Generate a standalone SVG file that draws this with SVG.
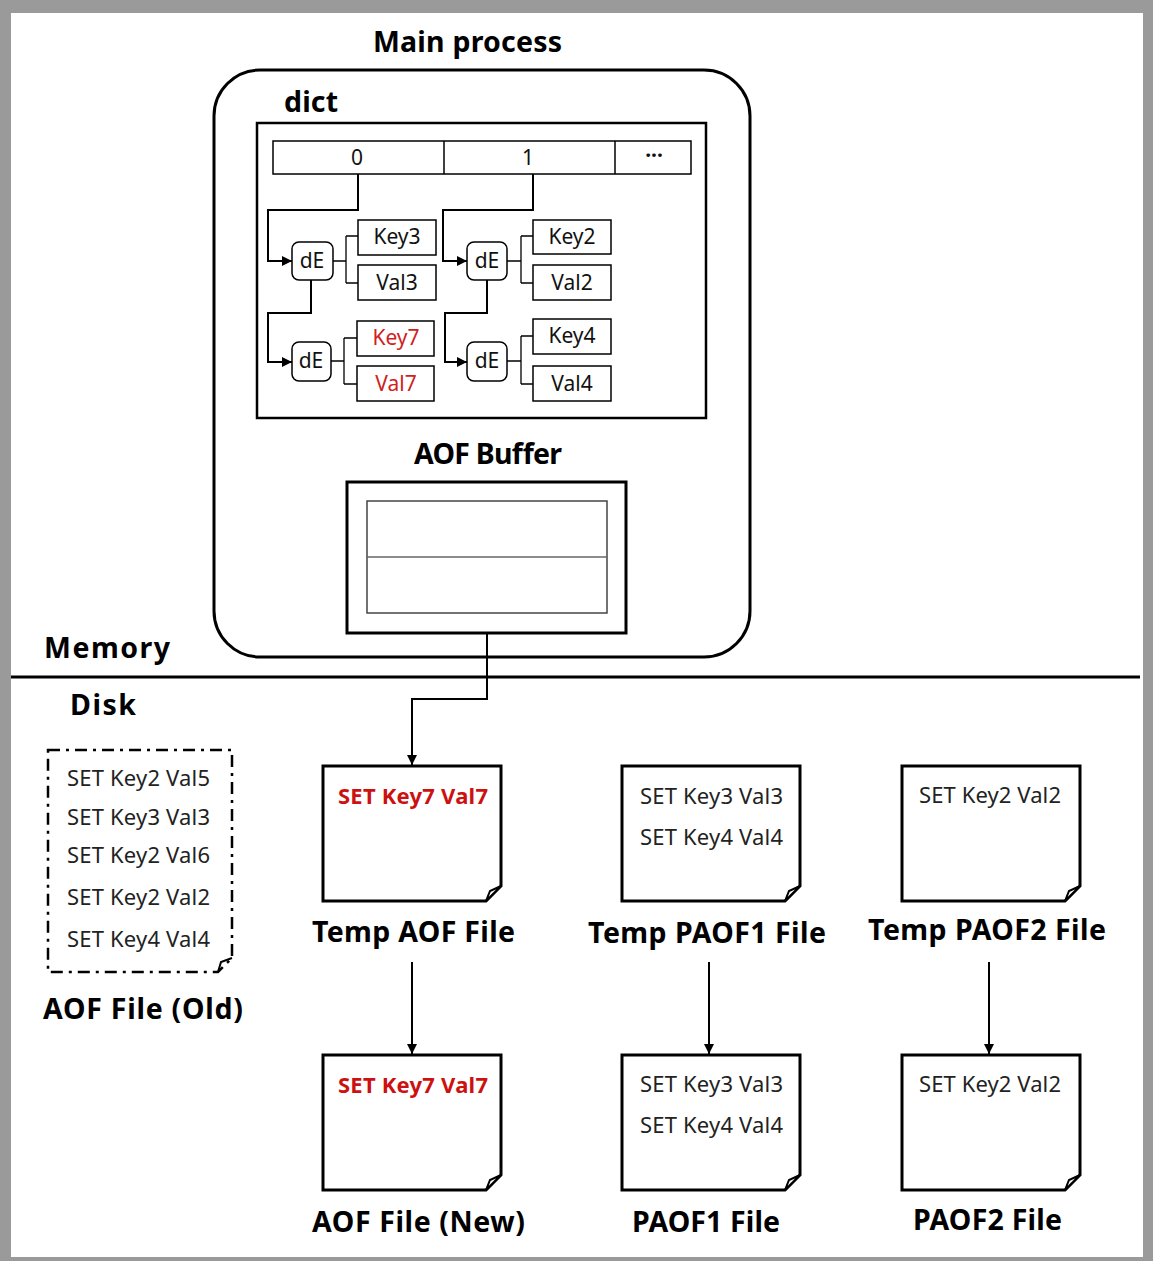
<svg xmlns="http://www.w3.org/2000/svg" width="1153" height="1261" viewBox="0 0 1153 1261">
<defs>
<marker id="arr" viewBox="0 0 10 10" refX="10" refY="5" markerWidth="10" markerHeight="10" markerUnits="userSpaceOnUse" orient="auto">
<path d="M0,0 L10,5 L0,10 Z" fill="#000"/>
</marker>
<style>
.lbl{font-family:"Noto Sans","Open Sans",sans-serif;font-weight:bold;font-size:28.5px;fill:#000;}
.cell{fill:#fff;stroke:#000;stroke-width:1.5;}
.de{fill:#fff;stroke:#000;stroke-width:1.5;}
.ct{font-family:"Noto Sans","Open Sans",sans-serif;font-size:21px;fill:#111;text-anchor:middle;}
.red{fill:#d02020;}
.ln{fill:none;stroke:#000;stroke-width:2;}
.ln1{fill:none;stroke:#000;stroke-width:1.3;}
.doc{fill:#fff;stroke:#000;stroke-width:3;}
.fold{fill:#fff;stroke:#000;stroke-width:2;}
.dt{font-family:"Noto Sans","Open Sans",sans-serif;font-size:22px;fill:#222;}
.dtr{font-family:"Noto Sans","Open Sans",sans-serif;font-size:22px;font-weight:bold;fill:#cc1111;}
</style>
</defs>
<rect x="0" y="0" width="1153" height="1261" fill="#9a9a9a"/>
<rect x="11" y="13" width="1132" height="1244" fill="#fff"/>

<g id="main-process">
<text class="lbl" x="373" y="52" textLength="189" lengthAdjust="spacing">Main process</text>
<rect x="214" y="70" width="536" height="587" rx="46" fill="none" stroke="#000" stroke-width="3"/>
</g>

<g id="dict">
<text class="lbl" x="284" y="112" textLength="54" lengthAdjust="spacing">dict</text>
<rect x="257" y="123" width="449" height="295" fill="none" stroke="#000" stroke-width="2.5"/>
<rect x="273" y="141" width="418" height="33" class="cell"/>
<line x1="444" y1="141" x2="444" y2="174" stroke="#000" stroke-width="1.5"/>
<line x1="615" y1="141" x2="615" y2="174" stroke="#000" stroke-width="1.5"/>
<text class="ct" x="357" y="165">0</text>
<text class="ct" x="528" y="165">1</text>
<text class="ct" x="654" y="163" style="font-weight:bold">···</text>
</g>

<g id="dE1">
<rect class="de" x="292" y="242" width="41" height="38" rx="7"/>
<text class="ct" x="312" y="268">dE</text>
</g>
<g id="key3"><rect class="cell" x="358" y="220" width="78" height="35"/><text class="ct" x="397" y="244">Key3</text></g>
<g id="val3"><rect class="cell" x="358" y="265" width="78" height="35"/><text class="ct" x="397" y="290">Val3</text></g>

<g id="dE2">
<rect class="de" x="292" y="342" width="39" height="39" rx="7"/>
<text class="ct" x="311" y="368">dE</text>
</g>
<g id="key7"><rect class="cell" x="357" y="321" width="77" height="35"/><text class="ct red" x="396" y="345">Key7</text></g>
<g id="val7"><rect class="cell" x="357" y="366" width="77" height="35"/><text class="ct red" x="396" y="391">Val7</text></g>

<g id="dE3">
<rect class="de" x="467" y="242" width="40" height="38" rx="7"/>
<text class="ct" x="487" y="268">dE</text>
</g>
<g id="key2"><rect class="cell" x="533" y="220" width="78" height="34"/><text class="ct" x="572" y="244">Key2</text></g>
<g id="val2"><rect class="cell" x="533" y="265" width="78" height="35"/><text class="ct" x="572" y="290">Val2</text></g>

<g id="dE4">
<rect class="de" x="467" y="342" width="40" height="39" rx="7"/>
<text class="ct" x="487" y="368">dE</text>
</g>
<g id="key4"><rect class="cell" x="533" y="319" width="78" height="35"/><text class="ct" x="572" y="343">Key4</text></g>
<g id="val4"><rect class="cell" x="533" y="366" width="78" height="35"/><text class="ct" x="572" y="391">Val4</text></g>

<g id="aof-buffer">
<text class="lbl" x="414" y="464" textLength="148" lengthAdjust="spacing">AOF Buffer</text>
<rect x="347" y="482" width="279" height="151" fill="#fff" stroke="#000" stroke-width="3"/>
<rect x="367" y="501" width="240" height="112" fill="none" stroke="#444" stroke-width="1.5"/>
<line x1="367" y1="557" x2="607" y2="557" stroke="#666" stroke-width="1.5"/>
</g>

<g id="memory-disk">
<line x1="11" y1="677" x2="1140" y2="677" stroke="#000" stroke-width="3"/>
<text class="lbl" x="44" y="658" textLength="126" lengthAdjust="spacing">Memory</text>
<text class="lbl" x="70" y="715" textLength="66" lengthAdjust="spacing">Disk</text>
</g>

<g id="aof-old">
<path d="M48,750 H232 V958 L218,972 H48 Z" fill="#fff" stroke="#000" stroke-width="2.5" stroke-dasharray="12,6,3,6"/>
<path d="M218,972 L221,962 L232,958" fill="none" stroke="#000" stroke-width="2"/>
<text class="dt" x="67" y="786" textLength="143" lengthAdjust="spacing">SET Key2 Val5</text>
<text class="dt" x="67" y="825" textLength="143" lengthAdjust="spacing">SET Key3 Val3</text>
<text class="dt" x="67" y="863" textLength="143" lengthAdjust="spacing">SET Key2 Val6</text>
<text class="dt" x="67" y="905" textLength="143" lengthAdjust="spacing">SET Key2 Val2</text>
<text class="dt" x="67" y="947" textLength="143" lengthAdjust="spacing">SET Key4 Val4</text>
<text class="lbl" x="43" y="1019" textLength="200" lengthAdjust="spacing">AOF File (Old)</text>
</g>

<g id="temp-aof">
<path class="doc" d="M323,766 H501 V886 L486,901 H323 Z"/>
<path class="fold" d="M486,901 L490,891 L501,886 Z"/>
<text class="dtr" x="338" y="804" textLength="150" lengthAdjust="spacing">SET Key7 Val7</text>
<text class="lbl" x="312" y="942" textLength="203" lengthAdjust="spacing">Temp AOF File</text>
</g>

<g id="temp-paof1">
<path class="doc" d="M622,766 H800 V886 L785,901 H622 Z"/>
<path class="fold" d="M785,901 L789,891 L800,886 Z"/>
<text class="dt" x="640" y="804" textLength="143" lengthAdjust="spacing">SET Key3 Val3</text>
<text class="dt" x="640" y="845" textLength="143" lengthAdjust="spacing">SET Key4 Val4</text>
<text class="lbl" x="588" y="943" textLength="238" lengthAdjust="spacing">Temp PAOF1 File</text>
</g>

<g id="temp-paof2">
<path class="doc" d="M902,766 H1080 V886 L1065,901 H902 Z"/>
<path class="fold" d="M1065,901 L1069,891 L1080,886 Z"/>
<text class="dt" x="919" y="803" textLength="142" lengthAdjust="spacing">SET Key2 Val2</text>
<text class="lbl" x="868" y="940" textLength="238" lengthAdjust="spacing">Temp PAOF2 File</text>
</g>

<g id="aof-new">
<path class="doc" d="M323,1055 H501 V1175 L486,1190 H323 Z"/>
<path class="fold" d="M486,1190 L490,1180 L501,1175 Z"/>
<text class="dtr" x="338" y="1093" textLength="150" lengthAdjust="spacing">SET Key7 Val7</text>
<text class="lbl" x="312" y="1232" textLength="213" lengthAdjust="spacing">AOF File (New)</text>
</g>

<g id="paof1">
<path class="doc" d="M622,1055 H800 V1175 L785,1190 H622 Z"/>
<path class="fold" d="M785,1190 L789,1180 L800,1175 Z"/>
<text class="dt" x="640" y="1092" textLength="143" lengthAdjust="spacing">SET Key3 Val3</text>
<text class="dt" x="640" y="1133" textLength="143" lengthAdjust="spacing">SET Key4 Val4</text>
<text class="lbl" x="632" y="1232" textLength="148" lengthAdjust="spacing">PAOF1 File</text>
</g>

<g id="paof2">
<path class="doc" d="M902,1055 H1080 V1175 L1065,1190 H902 Z"/>
<path class="fold" d="M1065,1190 L1069,1180 L1080,1175 Z"/>
<text class="dt" x="919" y="1092" textLength="142" lengthAdjust="spacing">SET Key2 Val2</text>
<text class="lbl" x="913" y="1230" textLength="149" lengthAdjust="spacing">PAOF2 File</text>
</g>

<g id="connectors">
<path class="ln" d="M358,174 V210 H268 V261 H292" marker-end="url(#arr)"/>
<path class="ln" d="M311,280 V313 H268 V362 H292" marker-end="url(#arr)"/>
<path class="ln" d="M533,174 V210 H443 V261 H467" marker-end="url(#arr)"/>
<path class="ln" d="M487,280 V313 H445 V362 H467" marker-end="url(#arr)"/>
<path class="ln1" d="M333,261 H346 M346,236 V283 M346,236 H358 M346,283 H358"/>
<path class="ln1" d="M331,361 H344 M344,338 V384 M344,338 H357 M344,384 H357"/>
<path class="ln1" d="M507,261 H521 M521,236 V283 M521,236 H533 M521,283 H533"/>
<path class="ln1" d="M507,361 H521 M521,336 V384 M521,336 H533 M521,384 H533"/>
<path class="ln" d="M487,633 V699 H412 V765" marker-end="url(#arr)"/>
<path class="ln" d="M412,962 V1054" marker-end="url(#arr)"/>
<path class="ln" d="M709,962 V1054" marker-end="url(#arr)"/>
<path class="ln" d="M989,962 V1054" marker-end="url(#arr)"/>
</g>
</svg>
